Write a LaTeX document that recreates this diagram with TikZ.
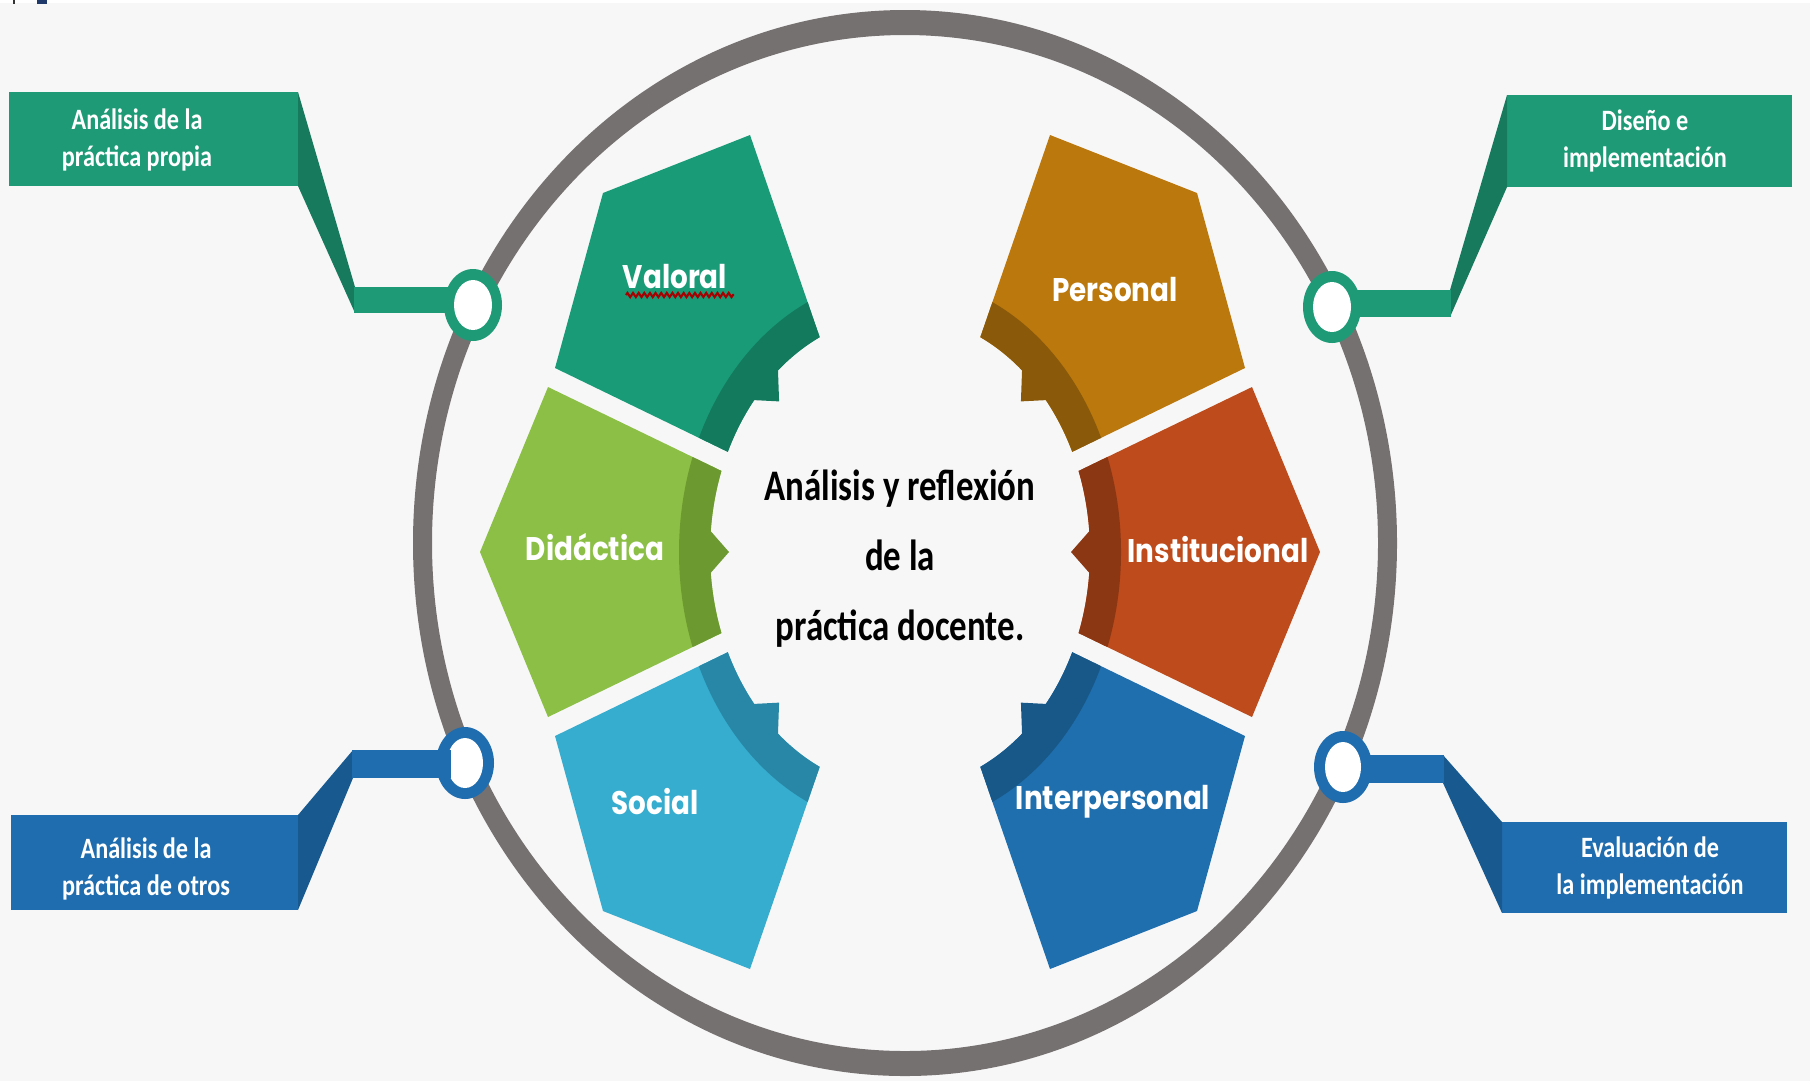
\documentclass[tikz,border=0pt]{standalone}
\usepackage{fontspec}
\setmainfont{Carlito}
\newfontfamily\popfont{Poppins}
\usetikzlibrary{decorations.pathmorphing}
\definecolor{bgc}{HTML}{F7F7F7}
\definecolor{ringgray}{HTML}{767171}
\definecolor{boxgreen}{HTML}{1E9B76}
\definecolor{foldgreen}{HTML}{177A5C}
\definecolor{boxblue}{HTML}{1F6DAE}
\definecolor{foldblue}{HTML}{185A90}
\definecolor{valc}{HTML}{1A9B78}\definecolor{valb}{HTML}{147A5E}
\definecolor{didc}{HTML}{8CBF45}\definecolor{didb}{HTML}{6C9A30}
\definecolor{socc}{HTML}{36ACCE}\definecolor{socb}{HTML}{2887A6}
\definecolor{perc}{HTML}{BB780D}\definecolor{perb}{HTML}{8A5909}
\definecolor{insc}{HTML}{BD4B1B}\definecolor{insb}{HTML}{8C3714}
\definecolor{intc}{HTML}{1F6FAE}\definecolor{intb}{HTML}{175889}
\definecolor{navyc}{HTML}{1F3A6B}
% #1 fill, #2 band, #3 mid angle, #4 outer points
\newcommand{\mypetal}[4]{%
  \fill[#1] ({#3-20}:190 and 237) arc[start angle={#3-20}, end angle={#3+20}, x radius=190, y radius=237] #4 -- cycle;
  \begin{scope}
    \clip ({#3-20}:190 and 237) arc[start angle={#3-20}, end angle={#3+20}, x radius=190, y radius=237] #4 -- cycle;
    \fill[#2, even odd rule] (0,0) ellipse[x radius=221, y radius=275] (0,0) ellipse[x radius=190, y radius=237];
  \end{scope}
  \fill[#2] ({#3-5.5}:192 and 239) -- ({#3}:171 and 213) -- ({#3+5.5}:192 and 239) -- cycle;
}
\tikzset{
  boxtext/.style={text=white, align=center, inner sep=0pt, xscale=0.82,
    font={\fontsize{8.4}{10.6}\selectfont\bfseries}},
  petaltext/.style={text=white, inner sep=0pt, xscale=0.85,
    font={\popfont\fontsize{9.3}{11}\selectfont\bfseries}},
  centertext/.style={text=black, align=center, inner sep=0pt, xscale=0.8,
    font={\fontsize{12.4}{19.9}\selectfont\bfseries}}
}
\begin{document}
\begin{tikzpicture}[x=0.01cm, y=-0.01cm]
\useasboundingbox (0,0) rectangle (1810,1081);
\clip (0,0) rectangle (1810,1081);
\fill[bgc] (0,0) rectangle (1810,1081);
\fill[white] (0,0) rectangle (1810,3);
\fill[black!80] (13,0) rectangle (15,4);
\fill[navyc] (37,0) rectangle (47,4);

% big gray ellipse
\fill[ringgray, even odd rule] (905,543) ellipse[x radius=492, y radius=533] (905,543) ellipse[x radius=473, y radius=508];

% petals left
\begin{scope}[shift={(900,552)}]
  \mypetal{valc}{valb}{225}{-- (-150,-417) -- (-297,-359) -- (-345,-184)}
  \mypetal{didc}{didb}{180}{-- (-352,-165) -- (-420,0) -- (-352,165)}
  \mypetal{socc}{socb}{135}{-- (-345,184) -- (-297,359) -- (-150,417)}
\end{scope}
% petals right (mirrored)
\begin{scope}[shift={(900,552)}, xscale=-1]
  \mypetal{perc}{perb}{225}{-- (-150,-417) -- (-297,-359) -- (-345,-184)}
  \mypetal{insc}{insb}{180}{-- (-352,-165) -- (-420,0) -- (-352,165)}
  \mypetal{intc}{intb}{135}{-- (-345,184) -- (-297,359) -- (-150,417)}
\end{scope}

% top-left callout
\fill[boxgreen] (9,92) rectangle (298,186);
\fill[foldgreen] (298,92) -- (355,287) -- (355,313) -- (298,186) -- cycle;
\fill[boxgreen] (354,287) rectangle (455,313);
\fill[boxgreen] (473,305) ellipse[x radius=29, y radius=36];
\fill[white] (473,305) ellipse[x radius=19, y radius=25];

% top-right callout
\fill[boxgreen] (1507,95) rectangle (1792,187);
\fill[foldgreen] (1507,95) -- (1450,290) -- (1450,317) -- (1507,187) -- cycle;
\fill[boxgreen] (1350,290) rectangle (1451,317);
\fill[boxgreen] (1332,307) ellipse[x radius=29, y radius=36];
\fill[white] (1332,307) ellipse[x radius=19, y radius=25];

% bottom-left callout
\fill[boxblue] (11,815) rectangle (298,910);
\fill[foldblue] (298,815) -- (353,750) -- (353,778) -- (298,910) -- cycle;
\fill[boxblue] (465,763) ellipse[x radius=29, y radius=36];
\fill[white] (465,763) ellipse[x radius=18, y radius=25];
\fill[boxblue] (352,750) rectangle (451,778);

% bottom-right callout
\fill[boxblue] (1502,822) rectangle (1787,913);
\fill[foldblue] (1443,755) -- (1502,822) -- (1502,913) -- (1443,783) -- cycle;
\fill[boxblue] (1360,755) rectangle (1444,783);
\fill[boxblue] (1343,767) ellipse[x radius=29, y radius=36];
\fill[white] (1343,767) ellipse[x radius=18, y radius=25];

% callout labels
\node[boxtext] (lt) at (137,140) {Análisis de la\\práctica propia};
\node[boxtext] (rt) at (1645,141) {Diseño e\\implementación};
\node[boxtext] (lb) at (146,869) {Análisis de la\\práctica de otros};
\node[boxtext] (rb) at (1650,868) {Evaluación de\\la implementación};

% petal labels
\node[petaltext] (val) at (675,277) {Valoral};
\draw[red!65!black, line width=0.6pt, decorate, decoration={zigzag, segment length=1.6pt, amplitude=0.6pt}] (626,295) -- (734,295);
\node[petaltext] (did) at (595,547) {Didáctica};
\node[petaltext] (soc) at (655,802) {Social};
\node[petaltext] (per) at (1115,290) {Personal};
\node[petaltext] (ins) at (1218,550) {Institucional};
\node[petaltext] (int) at (1113,802) {Interpersonal};

% centre text
\node[centertext] (ctr) at (900,559) {Análisis y reflexión\\de la\\práctica docente.};
\end{tikzpicture}
\end{document}
